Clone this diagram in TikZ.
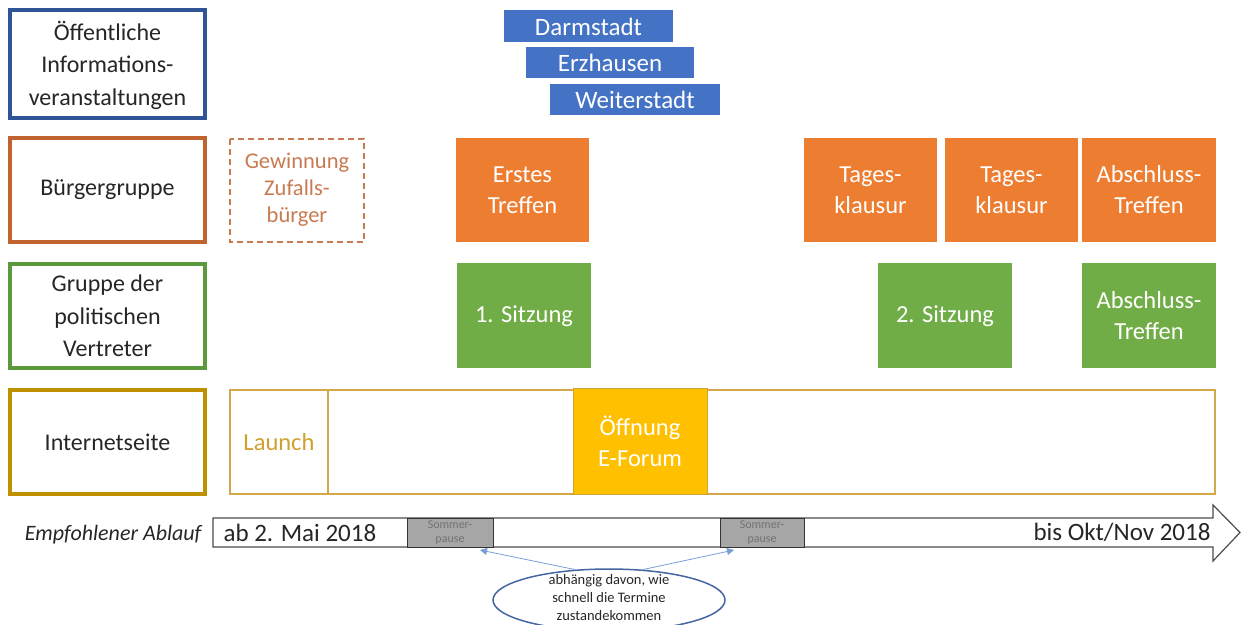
\documentclass[tikz,border=0pt]{standalone}
\usepackage{fontspec}
\setmainfont{Carlito}
\usetikzlibrary{arrows.meta,shapes.geometric}
\definecolor{cblue}{HTML}{2F5597}
\definecolor{cbrown}{HTML}{C0632F}
\definecolor{cgreen}{HTML}{5A9A3C}
\definecolor{cgold}{HTML}{BF9000}
\definecolor{fblue}{HTML}{4472C4}
\definecolor{forange}{HTML}{ED7D31}
\definecolor{fgreen}{HTML}{70AD47}
\definecolor{fyellow}{HTML}{FFC000}
\definecolor{lgold}{HTML}{D4A84A}
\definecolor{tgold}{HTML}{CFA12C}
\definecolor{dashc}{HTML}{C87A50}
\definecolor{tdark}{HTML}{262626}
\definecolor{gpause}{HTML}{A6A6A6}
\tikzset{
  lab/.style={draw, line width=3.5pt, text=tdark, align=center, font=\fontsize{24}{32.5}\selectfont},
  evt/.style={text=white, align=center, font=\fontsize{24.5}{31}\selectfont},
  city/.style={fill=fblue, text=white, font=\fontsize{25}{25}\selectfont},
  pause/.style={fill=gpause, draw=black!80, line width=1pt, text=black!55, align=center, font=\fontsize{12}{14}\selectfont},
  note/.style={-{Triangle[length=7pt,width=7pt]}, draw=fblue!70, line width=0.8pt},
}
\begin{document}
\begin{tikzpicture}[x=1pt,y=-1pt]
\useasboundingbox (0,0) rectangle (1241,624);
\clip (0,0) rectangle (1241,624);
% left labels
\draw[lab,draw=cblue] (10,10) rectangle (205,118);
\node[lab,draw=none] (l1) at (107.5,65) {Öffentliche\\Informations-\\veranstaltungen};
\draw[lab,draw=cbrown] (10,138) rectangle (205,242);
\node[lab,draw=none] (l2) at (107.5,190) {Bürgergruppe};
\draw[lab,draw=cgreen] (10,264) rectangle (205,368);
\node[lab,draw=none] (l3) at (107.5,316) {Gruppe der\\politischen\\Vertreter};
\draw[lab,draw=cgold] (10,390) rectangle (205,494);
\node[lab,draw=none] (l4) at (107.5,442) {Internetseite};
% cities
\fill[fblue] (504,10) rectangle (673,42);
\node[city] (c1) at (588.5,26.5) {Darmstadt};
\fill[fblue] (526,47) rectangle (694,78);
\node[city] (c2) at (610,63) {Erzhausen};
\fill[fblue] (550,84) rectangle (720,115);
\node[city] (c3) at (635,100) {Weiterstadt};
% buergergruppe
\draw[dashc, line width=2.5pt, dash pattern=on 6pt off 4pt] (230,139) rectangle (364,242);
\node[align=center, text=dashc, font=\fontsize{22.5}{27}\selectfont] (g) at (297,190) {Gewinnung\\Zufalls-\\bürger};
\fill[forange] (456,138) rectangle (589,242);
\node[evt] (e1) at (522.5,190) {Erstes\\Treffen};
\fill[forange] (804,138) rectangle (937,242);
\node[evt] (e2) at (870.5,190) {Tages-\\klausur};
\fill[forange] (945,138) rectangle (1078,242);
\node[evt] (e3) at (1011.5,190) {Tages-\\klausur};
\fill[forange] (1082,138) rectangle (1216,242);
\node[evt] (e4) at (1149,190) {Abschluss-\\Treffen};
% politische vertreter
\fill[fgreen] (457,263) rectangle (591,368);
\node[evt] (p1) at (524,316) {1. Sitzung};
\fill[fgreen] (878,263) rectangle (1012,368);
\node[evt] (p2) at (945,316) {2. Sitzung};
\fill[fgreen] (1082,263) rectangle (1216,368);
\node[evt] (p3) at (1149,316) {Abschluss-\\Treffen};
% internet
\draw[lgold, line width=1.3pt] (230,390) rectangle (1215,494);
\draw[lgold, line width=1.3pt] (328,390) -- (328,494);
\node[text=tgold, font=\fontsize{24.5}{25}\selectfont] (la) at (279,442) {Launch};
\fill[fyellow] (573,388) rectangle (707,494);
\draw[cgold!80, line width=0.8pt] (573,388) rectangle (707,494);
\node[evt] (ef) at (640,441) {Öffnung\\E-Forum};
% timeline arrow
\draw[black!70, line width=1.2pt, fill=white] (213,518) -- (1213,518) -- (1213,505) -- (1240,532.5) -- (1213,561) -- (1213,547) -- (213,547) -- cycle;
\node[anchor=west, text=tdark, font=\fontsize{25}{25}\selectfont] (ab) at (220,532.5) {ab 2. Mai 2018};
\node[anchor=east, text=tdark, font=\fontsize{25}{25}\selectfont] (bis) at (1214,532.5) {bis Okt/Nov 2018};
\node[anchor=east, text=tdark, font=\fontsize{22}{24}\selectfont\itshape] (emp) at (205,535) {Empfohlener Ablauf};
\node[pause, minimum width=86pt, minimum height=29pt, inner sep=0pt] (s1) at (450,533) {Sommer-\\pause};
\node[pause, minimum width=84pt, minimum height=29pt, inner sep=0pt] (s2) at (762,533) {Sommer-\\pause};
% note
\node[ellipse, draw=cblue!90, line width=1.5pt, minimum width=232pt, minimum height=62pt, inner sep=0pt] (el) at (609,600) {};
\node[align=center, text=tdark, font=\fontsize{14.5}{18}\selectfont] (nt) at (609,598) {abhängig davon, wie\\schnell die Termine\\zustandekommen};
\coordinate (t1) at (480,550);
\coordinate (t2) at (734,550);
\draw[note] (el.138) -- (t1);
\draw[note] (el.42) -- (t2);
\end{tikzpicture}
\end{document}
